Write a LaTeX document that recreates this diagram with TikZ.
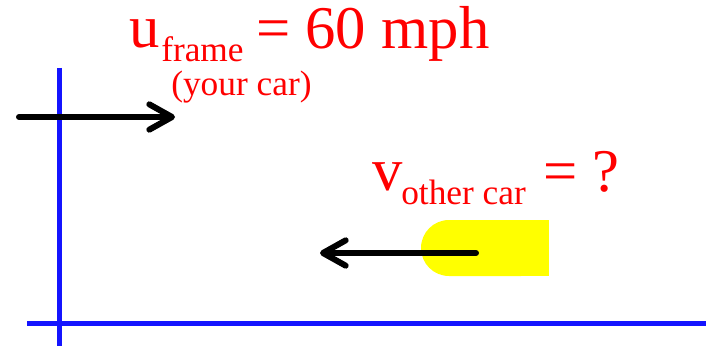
\documentclass[tikz,border=0pt]{standalone}
\usepackage{fontspec}
\setmainfont{Liberation Serif}
\usepackage{xcolor}
\usetikzlibrary{arrows.meta}
\definecolor{axisblue}{HTML}{1414FF}
\definecolor{labelred}{HTML}{FF0000}
\definecolor{caryellow}{HTML}{FFFF00}

\begin{document}
\begin{tikzpicture}[
        x=0.75pt, y=-0.75pt,
        axis/.style={
          axisblue,
          line width=3.75pt
        },
        velarrow/.style={
          -{Straight Barb[length=17pt, width=19pt, round]},
          line width=4.5pt,
          line cap=round,
          black
        },
        biglabel/.style={
          text=labelred,
          inner sep=0pt,
          anchor=base west,
          font=\fontsize{45.5}{52}\selectfont
        },
        sublabel/.style={
          text=labelred,
          inner sep=0pt,
          anchor=base west,
          font=\fontsize{26.5}{30}\selectfont
        }
      ]
      \useasboundingbox (0,0) rectangle (706,346);

      % axes
      \coordinate (yaxistop) at (59,68);
      \coordinate (yaxisbot) at (59,346);
      \coordinate (xaxisleft) at (27,323);
      \coordinate (xaxisright) at (706,323);
      \draw[axis] (yaxistop) -- (yaxisbot);
      \draw[axis] (xaxisleft) -- (xaxisright);

      % the other car
      \fill[caryellow, rounded corners=21pt] (421,220) rectangle (549,276);
      \fill[caryellow] (500,220) rectangle (549,276);

      % velocity arrows
      \coordinate (frametail) at (19,117);
      \coordinate (framehead) at (175,117);
      \coordinate (cartail) at (476,253);
      \coordinate (carhead) at (320,253);
      \draw[velarrow] (frametail) -- (framehead);
      \draw[velarrow] (cartail) -- (carhead);

      % labels
      \node[biglabel] (ulabel) at (129,48) {u};
      \node[sublabel, text depth=0pt] (uframe) at (161,62) {frame};
      \node[sublabel, text height=15pt] (yourcar) at (171,95) {(your car)};
      \node[biglabel] (uvalue) at (256,49) {= 60 mph};

      \node[biglabel] (vlabel) at (372,190) {v};
      \node[sublabel] (vother) at (401,204) {other car};
      \node[biglabel] (vvalue) at (543,191) {= ?};

      \end{tikzpicture}
\end{document}
